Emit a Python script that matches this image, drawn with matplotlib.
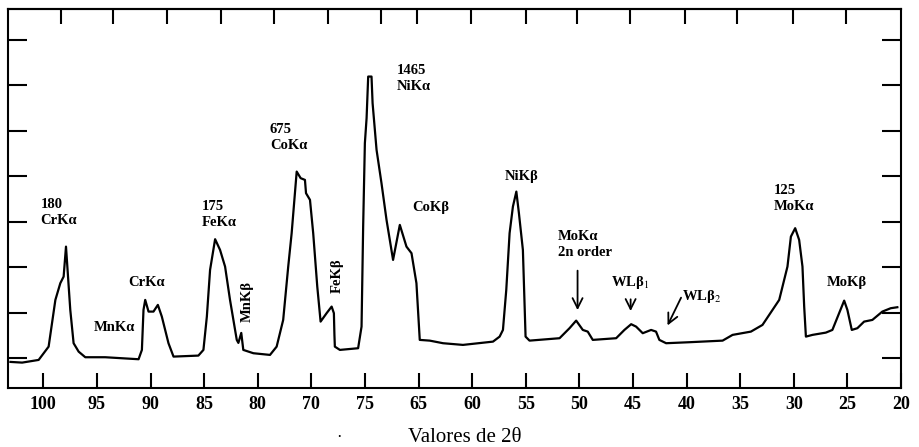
import matplotlib.pyplot as plt
import numpy as np

# scan: 2theta (deg) and relative intensity (arb. units)
two_theta = [103.07, 101.98, 100.44, 99.51, 99.19, 98.88, 98.42, 98.11, 97.89, 97.70,
             97.49, 97.18, 96.71, 96.09, 94.23, 91.12, 90.81, 90.66, 90.50, 90.19,
             89.73, 89.32, 88.95, 88.33, 87.86, 85.54, 85.07, 84.75, 84.45, 83.98,
             83.52, 83.05, 82.59, 81.96, 81.81, 81.54, 81.35, 80.41, 78.86, 78.24,
             77.63, 77.16, 76.84, 76.53, 76.37, 76.00, 75.60, 75.50, 75.13, 74.83,
             74.45, 74.14, 73.58, 73.11, 72.90, 72.85, 72.81, 72.34, 70.64, 70.32,
             70.17, 70.01, 69.85, 69.70, 69.39, 69.29, 68.92, 68.46, 67.99, 67.38,
             66.75, 66.13, 65.66, 65.20, 64.89, 63.96, 62.72, 60.86, 58.06, 57.44,
             57.13, 56.82, 56.51, 56.20, 55.88, 55.64, 55.27, 55.02, 54.65, 51.85,
             50.92, 50.30, 49.68, 49.22, 48.75, 46.57, 45.80, 45.17, 44.71, 44.09,
             43.31, 42.85, 42.54, 41.91, 39.74, 36.64, 35.71, 34.00, 32.92, 31.36,
             30.59, 30.27, 29.87, 29.50, 29.19, 29.03, 28.87, 28.26, 27.01, 26.40,
             25.77, 25.30, 25.00, 24.59, 24.07, 23.44, 22.67, 21.74, 20.96, 20.34]
intensity = [-7.7, -9.2, -3.3, 25.9, 77.4, 128.6, 165.3, 179.8, 245.7, 179.8,
             106.6, 33.4, 14.9, 2.6, 2.6, -1.8, 18.7, 106.6, 128.6, 102.9,
             102.9, 117.6, 91.9, 33.4, 4.0, 6.2, 18.7, 91.9, 194.5, 262.0,
             238.5, 201.8, 128.6, 40.7, 34.1, 56.0, 18.7, 11.4, 7.7, 25.9,
             84.6, 201.8, 275.2, 363.1, 410.6, 396.1, 392.3, 363.1, 348.4, 275.2,
             157.8, 80.9, 99.4, 113.9, 99.4, 51.7, 25.9, 18.7, 22.4, 69.9,
             289.7, 473.0, 528.0, 619.4, 619.4, 560.9, 458.3, 385.1, 304.4, 216.5,
             293.4, 245.7, 231.2, 165.3, 40.7, 39.1, 33.4, 29.7, 36.9, 47.9,
             62.6, 150.6, 275.2, 333.7, 366.6, 319.1, 238.5, 47.9, 39.1, 44.4,
             66.4, 83.1, 62.6, 58.9, 40.7, 44.4, 62.6, 75.2, 69.9, 55.4,
             62.6, 58.9, 40.7, 33.4, 35.6, 39.1, 51.7, 58.9, 73.6, 128.6,
             201.8, 267.7, 286.2, 260.5, 201.8, 113.9, 47.9, 51.7, 56.7, 62.6,
             99.4, 127.0, 106.6, 62.6, 66.4, 80.9, 84.6, 102.9, 110.3, 112.5]

# tick positions / labels as printed (70 and 75 swapped in the original)
bottom_ticks = [100, 95, 90, 85, 80, 75, 70, 65, 60, 55, 50, 45, 40, 35, 30, 25, 20]
bottom_labels = ['100', '95', '90', '85', '80', '70', '75', '65', '60', '55',
                 '50', '45', '40', '35', '30', '25', '20']
top_ticks = [98.32, 93.48, 88.45, 83.42, 78.49, 73.46, 68.52, 65.17, 60.14,
             55.02, 50.18, 45.24, 40.12, 35.27, 30.06, 25.12]
y_ticks = [0, 100, 200, 300, 400, 500, 600, 700]

# peak labels: text, x, y, alignment, rotation
labels = [('180\nCrK\u03b1', 100.28, 320, 'left', 0),
          ('MnK\u03b1', 93.39, 67, 'center', 0),
          ('CrK\u03b1', 90.36, 166, 'center', 0),
          ('175\nFeK\u03b1', 85.19, 317, 'left', 0),
          ('MnK\u03b2', 81.0, 124, 'center', 90),
          ('675\nCoK\u03b1', 78.86, 485, 'left', 0),
          ('FeK\u03b2', 72.62, 181, 'center', 90),
          ('1465\nNiK\u03b1', 67.03, 616, 'left', 0),
          ('CoK\u03b2', 63.87, 331, 'center', 0),
          ('NiK\u03b2', 55.39, 399, 'center', 0),
          ('MoK\u03b1\n2n order', 52.04, 250, 'left', 0),
          ('WL\u03b2$_1$', 45.24, 166, 'center', 0),
          ('WL\u03b2$_2$', 40.40, 137, 'left', 0),
          ('125\nMoK\u03b1', 31.83, 351, 'left', 0),
          ('MoK\u03b2', 25.03, 166, 'center', 0)]

# arrows: (x_from, y_from, x_to, y_to)
arrows = [(50.17, 199, 50.17, 100),
          (45.22, 136, 45.22, 98),
          (40.40, 139, 41.89, 67)]

plt.rcParams['font.family'] = ['Liberation Serif', 'DejaVu Serif']
plt.rcParams['mathtext.fontset'] = 'stix'

fig = plt.figure(figsize=(9.19, 4.47), dpi=100)
ax = fig.add_axes([0.0087, 0.132, 0.9717, 0.848])

ax.plot(two_theta, intensity, color='black', lw=1.6)

ax.set_xlim(103.3, 20)
ax.set_ylim(-65, 768)

ax.set_xticks(bottom_ticks)
ax.set_xticklabels(bottom_labels, fontsize=13, fontweight='bold')
ax.set_yticks(y_ticks)
ax.set_yticklabels([])
ax.tick_params(axis='x', direction='in', length=11, width=1.5, pad=6)
ax.tick_params(axis='y', direction='in', length=14, width=1.5,
               left=True, right=True)

sec = ax.secondary_xaxis('top')
sec.set_xticks(top_ticks)
sec.tick_params(direction='in', length=11, width=1.5, labeltop=False)
sec.spines['top'].set_linewidth(1.5)

for s in ax.spines.values():
    s.set_linewidth(1.5)

for txt, x, y, ha, rot in labels:
    ax.text(x, y, txt, ha=ha, va='center', fontsize=10.5, fontweight='bold',
            rotation=rot, linespacing=1.3)

for x0, y0, x1, y1 in arrows:
    ax.annotate('', xy=(x1, y1), xytext=(x0, y0),
                arrowprops=dict(arrowstyle='->', color='black', lw=1.3,
                                mutation_scale=18))

fig.text(465 / 919, 1 - 438 / 447, 'Valores de 2\u03b8', ha='center',
         va='center', fontsize=15)
fig.text(339 / 919, 1 - 438 / 447, '\u00b7', ha='center', va='center',
         fontsize=12)

fig.savefig('out.png', dpi=100)
